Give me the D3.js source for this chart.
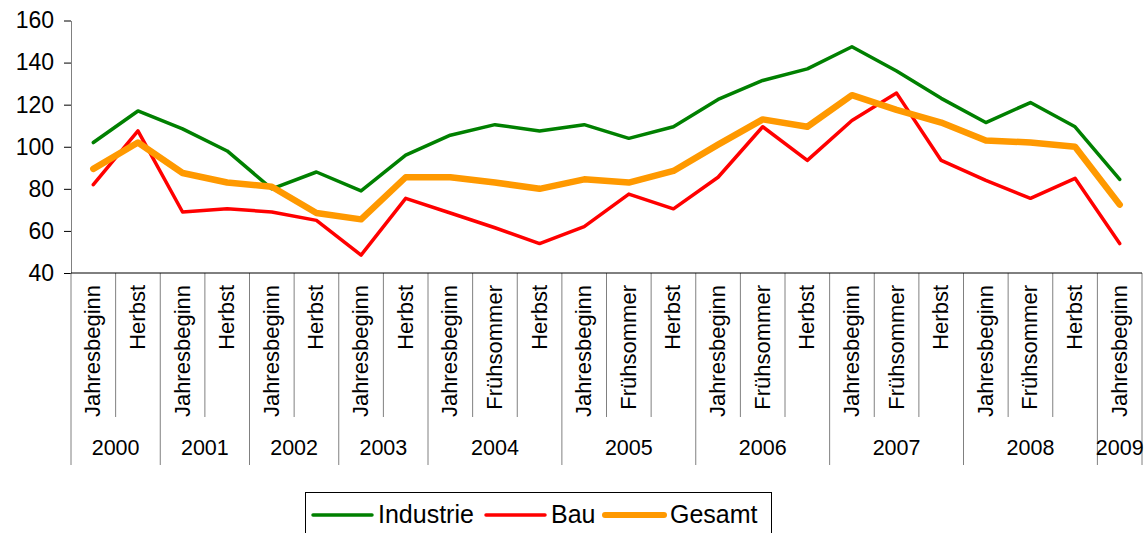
<!DOCTYPE html>
<html>
<head>
<meta charset="utf-8">
<script src="https://cdn.jsdelivr.net/npm/d3@7/dist/d3.min.js"></script>
<style>
  body { margin: 0; background: #fff; }
  svg { display: block; font-family: "Liberation Sans", Arial, sans-serif; }
</style>
</head>
<body>
<div id="chart"></div>
<script>
// categories (period + year) and the three series
const periods = ['Jahresbeginn','Herbst','Jahresbeginn','Herbst','Jahresbeginn','Herbst','Jahresbeginn','Herbst',
  'Jahresbeginn','Frühsommer','Herbst','Jahresbeginn','Frühsommer','Herbst','Jahresbeginn','Frühsommer','Herbst',
  'Jahresbeginn','Frühsommer','Herbst','Jahresbeginn','Frühsommer','Herbst','Jahresbeginn'];
const catYears = ['2000','2000','2001','2001','2002','2002','2003','2003',
  '2004','2004','2004','2005','2005','2005','2006','2006','2006',
  '2007','2007','2007','2008','2008','2008','2009'];
const industrie = [102, 117, 108.5, 98, 80, 88, 79, 96, 105.5, 110.5, 107.5, 110.5, 104, 109.5, 122.5, 131.5, 137, 147.5, 136, 123, 111.5, 121, 109.5, 84.5];
const bau = [82, 107.5, 69, 70.5, 69, 65, 48.5, 75.5, 68.5, 61.5, 54, 62, 77.5, 70.5, 85.5, 109.5, 93.5, 112.5, 125.5, 93.5, 84, 75.5, 85, 54];
const gesamt = [89.5, 102, 87.5, 83, 81, 68.5, 65.5, 85.5, 85.5, 83, 80, 84.5, 83, 88.5, 101, 113, 109.5, 124.5, 117.5, 111.5, 103, 102, 100, 72.5];
const yTicks = [40, 60, 80, 100, 120, 140, 160];

const seriesNames = ['Industrie', 'Bau', 'Gesamt'];
const seriesColors = ['#008000', '#ff0000', '#ff9900'];
const seriesWidths = [3.5, 3.5, 6.5];
const seriesData = [industrie, bau, gesamt];

const W = 1144, H = 533;
const svg = d3.select('#chart').append('svg')
  .attr('width', W)
  .attr('height', H);

const x = d3.scaleBand()
  .domain(d3.range(periods.length))
  .range([71, 1142])
  .padding(0);

const y = d3.scaleLinear()
  .domain([40, 160])
  .range([273, 20.5]);

// y axis
const yAxis = svg.append('g')
  .attr('transform', 'translate(71,0)')
  .call(d3.axisLeft(y).tickValues(yTicks).tickSize(7).tickSizeOuter(0).tickPadding(10));
yAxis.select('.domain').attr('stroke', '#808080');
yAxis.selectAll('.tick line').attr('stroke', '#000');
yAxis.selectAll('.tick text')
  .attr('font-size', 23)
  .attr('font-family', '"Liberation Sans", Arial, sans-serif')
  .attr('fill', '#000');

// category separators
const axisY = y(40);
const bounds = d3.range(periods.length + 1);
svg.append('g').selectAll('line')
  .data(bounds)
  .enter()
  .append('line')
    .attr('x1', d => d < periods.length ? x(d) : x.range()[1])
    .attr('x2', d => d < periods.length ? x(d) : x.range()[1])
    .attr('y1', axisY)
    .attr('y2', function (d) {
      // year boundaries run down to the bottom row
      if (d == 0 || d == periods.length || catYears[d] != catYears[d - 1]) return 465;
      return 417;
    })
    .attr('stroke', '#808080')
    .attr('stroke-width', 1);

// x axis line
svg.append('line')
  .attr('x1', x.range()[0]).attr('x2', x.range()[1])
  .attr('y1', axisY).attr('y2', axisY)
  .attr('stroke', '#000');

// period labels (rotated)
svg.append('g').selectAll('text')
  .data(periods)
  .enter()
  .append('text')
    .attr('transform', (d, i) => 'translate(' + (x(i) + x.bandwidth() / 2) + ',285) rotate(-90)')
    .attr('dy', '0.32em')
    .attr('text-anchor', 'end')
    .attr('font-size', 22)
    .text(d => d);

// year labels
const yearGroups = [];
catYears.forEach(function (yr, i) {
  let last = yearGroups[yearGroups.length - 1];
  if (last && last.year == yr) last.end = i;
  else yearGroups.push({ year: yr, start: i, end: i });
});
svg.append('g').selectAll('text')
  .data(yearGroups)
  .enter()
  .append('text')
    .attr('x', d => (x(d.start) + x(d.end) + x.bandwidth()) / 2)
    .attr('y', 455)
    .attr('text-anchor', 'middle')
    .attr('font-size', 21.5)
    .text(d => d.year);

// lines
const line = d3.line()
  .x((d, i) => x(i) + x.bandwidth() / 2)
  .y(d => y(d));

svg.append('g').selectAll('path')
  .data(seriesData)
  .enter()
  .append('path')
    .attr('d', d => line(d))
    .attr('fill', 'none')
    .attr('stroke', (d, i) => seriesColors[i])
    .attr('stroke-width', (d, i) => seriesWidths[i])
    .attr('stroke-linejoin', 'round')
    .attr('stroke-linecap', 'round');

// legend
const legend = svg.append('g');
legend.append('rect')
  .attr('x', 305.5).attr('y', 492.5)
  .attr('width', 466).attr('height', 50)
  .attr('fill', '#fff')
  .attr('stroke', '#000');
const legendX = [313, 486, 605];
seriesNames.forEach(function (name, i) {
  legend.append('line')
    .attr('x1', legendX[i]).attr('x2', legendX[i] + 59)
    .attr('y1', 515).attr('y2', 515)
    .attr('stroke', seriesColors[i])
    .attr('stroke-width', i == 2 ? 6 : 3.5)
    .attr('stroke-linecap', 'round');
  legend.append('text')
    .attr('x', legendX[i] + 65)
    .attr('y', 523)
    .attr('font-size', 25)
    .text(name);
});
</script>
</body>
</html>
